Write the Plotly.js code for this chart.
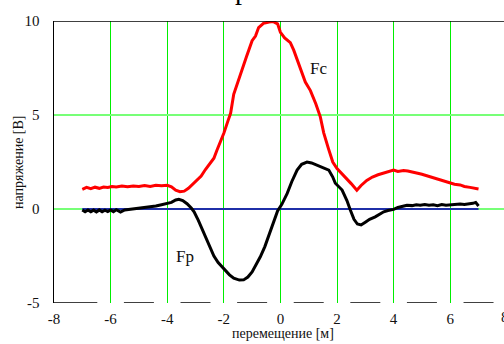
<!DOCTYPE html>
<html><head><meta charset="utf-8">
<script src="https://cdn.plot.ly/plotly-3.0.1.min.js"></script>
<style>html,body{margin:0;padding:0;background:#fff;}#chart{width:504px;height:344px;}</style>
</head><body><div id="chart"></div>
<script>
// Fc (red) series
const fcX = [-7.0,-6.85,-6.7,-6.55,-6.4,-6.25,-6.1,-5.95,-5.8,-5.6,-5.4,-5.2,-5.0,-4.8,-4.6,-4.4,-4.2,-4.0,-3.85,-3.7,-3.55,-3.4,-3.25,-3.1,-2.95,-2.8,-2.65,-2.5,-2.35,-2.25,-2.1,-2.0,-1.85,-1.76,-1.65,-1.5,-1.35,-1.2,-1.0,-0.88,-0.77,-0.6,-0.4,-0.25,-0.1,0.0,0.15,0.35,0.47,0.6,0.77,0.88,1.06,1.25,1.41,1.53,1.7,1.85,2.0,2.2,2.35,2.5,2.7,2.85,3.05,3.25,3.45,3.65,3.8,4.0,4.15,4.35,4.5,4.7,4.85,5.0,5.2,5.35,5.5,5.65,5.8,6.0,6.15,6.35,6.5,6.7,6.85,7.0];
const fcY = [1.05,1.15,1.08,1.16,1.1,1.17,1.14,1.2,1.17,1.22,1.18,1.22,1.2,1.25,1.2,1.26,1.24,1.26,1.18,1.0,0.92,0.95,1.1,1.3,1.5,1.75,2.1,2.4,2.7,3.1,3.6,4.03,4.7,5.09,6.1,6.8,7.4,8.1,8.95,9.2,9.65,9.88,9.95,9.97,9.85,9.4,9.1,8.85,8.45,7.9,7.25,6.75,6.3,5.6,4.9,4.05,3.2,2.5,2.15,1.85,1.62,1.35,1.0,1.25,1.52,1.7,1.82,1.92,1.98,2.07,2.0,2.05,2.02,1.97,1.9,1.85,1.76,1.7,1.6,1.55,1.46,1.4,1.32,1.28,1.2,1.15,1.12,1.06];
// Fp (black) series
const fpX = [-7.0,-6.9,-6.8,-6.7,-6.6,-6.5,-6.4,-6.3,-6.2,-6.1,-6.0,-5.9,-5.8,-5.65,-5.5,-5.35,-5.2,-5.0,-4.8,-4.6,-4.4,-4.2,-4.0,-3.85,-3.7,-3.59,-3.45,-3.3,-3.15,-3.05,-2.9,-2.71,-2.5,-2.35,-2.2,-2.0,-1.8,-1.65,-1.45,-1.3,-1.15,-1.0,-0.85,-0.71,-0.55,-0.4,-0.25,-0.1,0.05,0.24,0.4,0.59,0.75,0.94,1.1,1.29,1.5,1.71,1.85,1.94,2.18,2.35,2.47,2.6,2.72,2.85,3.0,3.15,3.35,3.5,3.65,3.8,4.0,4.15,4.3,4.47,4.65,4.8,4.94,5.1,5.25,5.4,5.55,5.7,5.85,6.0,6.15,6.35,6.5,6.65,6.8,6.9,7.0];
const fpY = [-0.05,-0.15,-0.05,-0.15,-0.06,-0.16,-0.05,-0.15,-0.06,-0.14,-0.05,-0.14,-0.04,-0.16,-0.05,-0.02,0.0,0.03,0.08,0.13,0.16,0.23,0.3,0.35,0.48,0.52,0.45,0.28,0.05,-0.15,-0.6,-1.29,-2.0,-2.5,-2.85,-3.2,-3.5,-3.68,-3.78,-3.77,-3.62,-3.35,-2.95,-2.54,-2.0,-1.4,-0.75,-0.1,0.25,0.83,1.45,2.07,2.38,2.5,2.45,2.34,2.2,2.07,1.7,1.37,1.01,0.45,-0.05,-0.55,-0.8,-0.85,-0.7,-0.55,-0.42,-0.28,-0.15,-0.08,-0.02,0.08,0.15,0.2,0.18,0.22,0.2,0.24,0.2,0.22,0.18,0.24,0.2,0.22,0.25,0.27,0.24,0.26,0.3,0.35,0.16];
// Zero reference (blue)
const refX = [-7, 7];
const refY = [0, 0];
const xTicks = [-8,-6,-4,-2,0,2,4,6];
const yTicks = [-5,0,5,10];

const serif = 'Liberation Serif';
const tf = {family:serif, size:15, color:'#111'};
const traces = [
  {x: refX, y: refY, mode:'lines', line:{color:'#1f2fa8', width:2}, hoverinfo:'skip'},
  {x: fcX, y: fcY, mode:'lines', line:{color:'#ff0000', width:3}, hoverinfo:'skip'},
  {x: fpX, y: fpY, mode:'lines', line:{color:'#000000', width:3}, hoverinfo:'skip'}
];

// bottom axis drawn as broken line (gaps at grid lines)
const half = 0.47;
const shapes = [];
const edges = xTicks.concat([8]);
for (let i = 0; i < edges.length - 1; i++) {
  const a = (i === 0) ? edges[0] : edges[i] + half;
  const b = edges[i+1] - half;
  shapes.push({type:'line', xref:'x', yref:'y', x0:a, x1:b, y0:-5, y1:-5, line:{color:'#000', width:1.5}});
}
shapes.push({type:'line', xref:'paper', yref:'y', x0:0, x1:1, y0:10, y1:10, line:{color:'#000', width:1.5}});

const layout = {
  width:504, height:344,
  margin:{l:54, r:0, t:21, b:41},
  paper_bgcolor:'#fff', plot_bgcolor:'#fff',
  showlegend:false,
  font:{family:serif, size:14, color:'#111'},
  xaxis:{range:[-8,7.9], tickvals:xTicks, ticktext:xTicks.map(String), tickfont:tf, showgrid:true, gridcolor:'#00ee00', gridwidth:1,
         zeroline:false, showline:false, ticks:'', ticklabelstandoff:5},
  yaxis:{range:[-5,10], tickvals:yTicks, ticktext:yTicks.map(String), tickfont:tf, showgrid:true, gridcolor:'#77ff77', gridwidth:1.5,
         zeroline:false, showline:true, linecolor:'#000', linewidth:1.5, ticks:'', ticklabelstandoff:10},
  shapes: shapes,
  annotations:[
    {x:(283-54)/450, y:-(333-303)/282, xref:'paper', yref:'paper', text:'перемещение [м]', showarrow:false, xanchor:'center', yanchor:'middle', font:{family:serif, size:14, color:'#111'}},
    {x:-(54-18)/450, y:0.5, xref:'paper', yref:'paper', text:'напряжение [В]', textangle:-90, showarrow:false, xanchor:'center', yanchor:'middle', font:{family:serif, size:14, color:'#111'}},
    {x:1.36, y:7.45, xref:'x', yref:'y', text:'Fc', showarrow:false, font:{family:serif, size:17, color:'#111'}},
    {x:-3.37, y:-2.5, xref:'x', yref:'y', text:'Fp', showarrow:false, font:{family:serif, size:17, color:'#111'}},
    {x:1.002, y:-(317-303)/282, xref:'paper', yref:'paper', text:'8', showarrow:false, xanchor:'center', yanchor:'middle', font:tf},
    {x:(241.7-54)/450, y:1+14/282, xref:'paper', yref:'paper', text:'р', showarrow:false, xanchor:'center', yanchor:'bottom', font:{family:serif, size:28, color:'#000'}}
  ]
};
Plotly.newPlot('chart', traces, layout, {staticPlot:true, displayModeBar:false});
</script></body></html>
